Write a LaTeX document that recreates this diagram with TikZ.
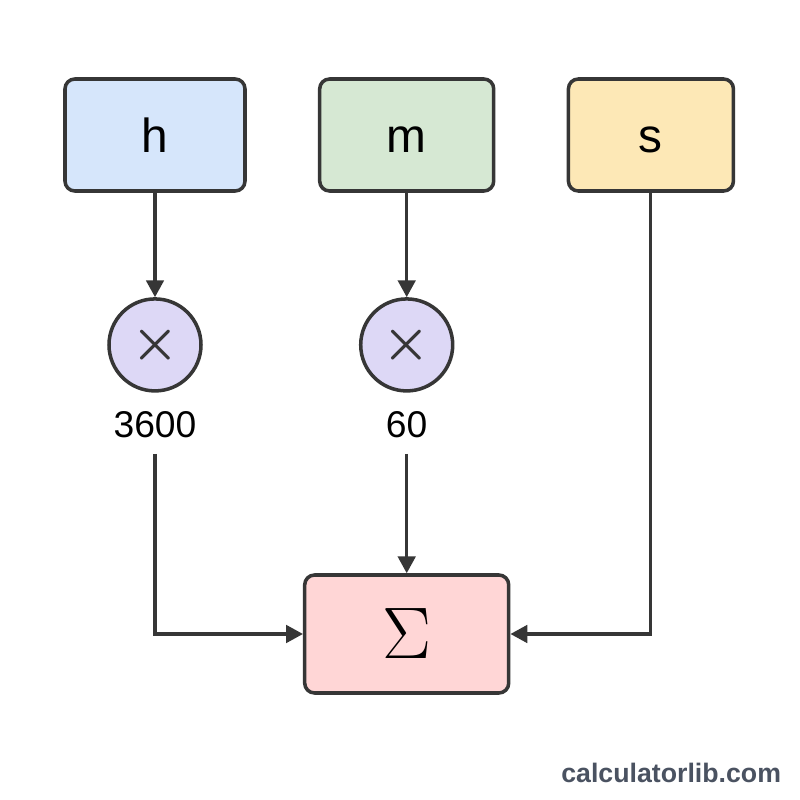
\RequirePackage{fix-cm}
\documentclass[tikz,border=0pt]{standalone}
\usepackage{fontspec}
\setmainfont{Liberation Sans}
\usepackage{xcolor}
\definecolor{hourBlue}{HTML}{D6E6FB}
\definecolor{minuteGreen}{HTML}{D6E8D3}
\definecolor{secondYellow}{HTML}{FDE8B6}
\definecolor{multPurple}{HTML}{DDD8F6}
\definecolor{sumPink}{HTML}{FFD6D6}
\definecolor{edgeGray}{HTML}{363636}
\definecolor{markGray}{HTML}{4A5261}
\usepackage{tikz}
\usetikzlibrary{
    arrows.meta,
    positioning
}
\tikzset{
    % Input boxes for h, m and s
    input box/.style={
        rectangle,
        rounded corners=7pt,
        draw=edgeGray,
        line width=2.5pt,
        minimum height=2.8cm,
        text height=25.6pt,
        text depth=0pt,
        font=\fontsize{34}{40}\selectfont,
        text=black,
    },
    % Multiplier circles
    mult node/.style={
        circle,
        draw=edgeGray,
        line width=2.5pt,
        fill=multPurple,
        minimum size=2.3cm,
        inner sep=0pt,
        text=edgeGray,
        font=\fontsize{38}{38}\selectfont\boldmath,
    },
    % Factor labels under the circles
    factor label/.style={
        inner sep=2pt,
        text=black,
        font=\fontsize{26.5}{30}\selectfont,
    },
    % Sum box
    sum box/.style={
        rectangle,
        rounded corners=7pt,
        draw=edgeGray,
        line width=2.5pt,
        fill=sumPink,
        minimum width=5.1cm,
        minimum height=2.95cm,
        font=\fontsize{52}{52}\selectfont,
    },
    % Connector arrows
    arrow/.style={
        -{Triangle[length=12pt, width=12.5pt]},
        line width=2.2pt,
        draw=edgeGray,
    },
    % Site mark in the corner
    brand mark/.style={
        font=\fontsize{19}{22}\selectfont\bfseries,
        text=markGray,
    },
}
\begin{document}
\begin{tikzpicture}
    \fill [white] (0,0) rectangle (20,-20);
    \useasboundingbox (0,0) rectangle (20,-20);

    \node (h) [input box, fill=hourBlue, minimum width=4.5cm] at (3.875,-3.375) {h};
    \node (m) [input box, fill=minuteGreen, minimum width=4.35cm, right=1.78cm of h] {m};
    \node (s) [input box, fill=secondYellow, minimum width=4.125cm, right=1.78cm of m] {s};

    \node (x1) [mult node, below=2.61cm of h] {$\times$};
    \node (x2) [mult node, below=2.61cm of m] {$\times$};
    \node (p1) [factor label, below=0.4cm of x1] {3600};
    \node (p2) [factor label, below=0.4cm of x2] {60};

    \node (sum) [sum box, below=3.3cm of p2] {$\Sigma$};

    \node (brand) [brand mark] at (16.78,-19.33) {calculatorlib.com};

    \draw [arrow] (h) -- (x1);
    \draw [arrow] (m) -- (x2);
    \draw [arrow, shorten <=9pt] (p1.south) |- (sum.west);
    \draw [arrow, shorten <=9pt] (p2) -- (sum);
    \draw [arrow] (s.south) |- (sum.east);
\end{tikzpicture}
\end{document}
